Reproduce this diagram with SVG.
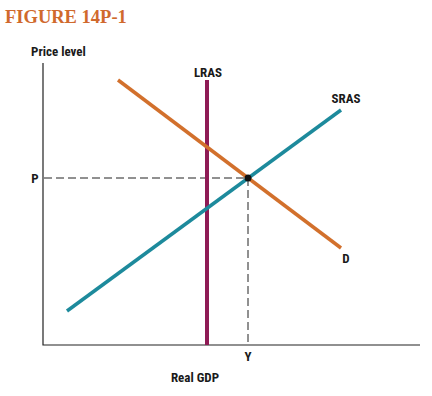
<svg xmlns="http://www.w3.org/2000/svg" width="432" height="396" viewBox="0 0 432 396">
<style>
.lbl{font-family:"Liberation Sans Narrow","Roboto Condensed","Liberation Sans",sans-serif;font-weight:bold;font-size:13px;fill:#1a1a1a}
.title{font-family:"Liberation Serif",serif;font-weight:bold;font-size:18.5px;fill:#d0692c}
.axis{stroke:#222;stroke-width:1.2;fill:none}
.dash{stroke:#222;stroke-width:1;stroke-dasharray:8,4;fill:none}
</style>
<rect width="432" height="396" fill="#fff"/>
<text class="title" x="5" y="23">FIGURE 14P-1</text>
<g id="axes">
<path class="axis" d="M43,63 V345 H420"/>
<text class="lbl" x="31" y="56">Price level</text>
<text class="lbl" x="195" y="382" text-anchor="middle">Real GDP</text>
<text class="lbl" x="35" y="183" text-anchor="middle">P</text>
<text class="lbl" x="248" y="361" text-anchor="middle">Y</text>
</g>
<g id="connectors">
<path class="dash" d="M44,178 H248"/>
<path class="dash" d="M248,178 V345"/>
</g>
<g id="LRAS">
<line x1="207" y1="80" x2="207" y2="345" stroke="#8e1b55" stroke-width="4"/>
<text class="lbl" x="208" y="77" text-anchor="middle">LRAS</text>
</g>
<g id="D">
<line x1="118" y1="80" x2="341" y2="248" stroke="#d2702c" stroke-width="3.5"/>
<text class="lbl" x="346" y="263" text-anchor="middle">D</text>
</g>
<g id="SRAS">
<line x1="67" y1="311" x2="341" y2="110" stroke="#1d8a9c" stroke-width="3.5"/>
<text class="lbl" x="346" y="103" text-anchor="middle">SRAS</text>
</g>
<g id="equilibrium">
<circle cx="248" cy="178" r="3.5" fill="#111"/>
</g>
</svg>
